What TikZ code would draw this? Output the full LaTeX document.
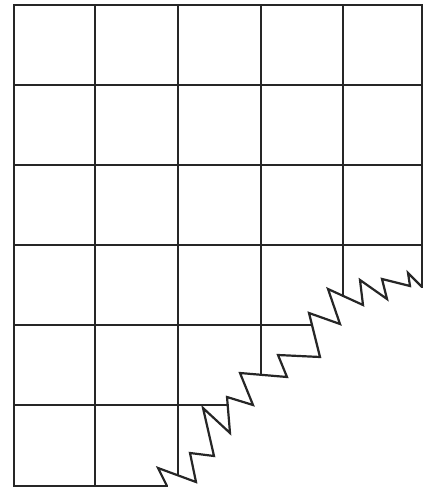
\documentclass[tikz,border=0pt]{standalone}
\begin{document}
\begin{tikzpicture}[x=1pt,y=-1pt]
\tikzset{gridline/.style={line width=2.4pt,draw=black!85,line cap=rect},
         breakline/.style={line width=2.2pt,draw=black!85,line join=miter}}
\useasboundingbox (0,0) rectangle (427,490);
% full horizontal lines
\draw[gridline] (14,5) -- (422,5);
\draw[gridline] (14,85) -- (422,85);
\draw[gridline] (14,165) -- (422,165);
\draw[gridline] (14,245) -- (422,245);
% truncated horizontal lines
\draw[gridline] (14,325) -- (312,325);
\draw[gridline] (14,405) -- (228,405);
\draw[gridline] (14,486) -- (167,486);
% vertical lines
\draw[gridline] (14,5) -- (14,486);
\draw[gridline] (95,5) -- (95,486);
\draw[gridline] (178,5) -- (178,475);
\draw[gridline] (261,5) -- (261,375);
\draw[gridline] (343,5) -- (343,296);
\draw[gridline] (422,5) -- (422,287);
% break line
\draw[breakline] (167,486) -- (158,468) -- (196,482) -- (190,453) -- (214,456)
  -- (203,408) -- (230,433) -- (227,397) -- (253,405) -- (240,373)
  -- (287,377) -- (278,355) -- (320,357) -- (309,313) -- (340,324)
  -- (328,289) -- (363,305) -- (360,280) -- (387,299) -- (382,279)
  -- (410,286) -- (408,273) -- (422,287);
\end{tikzpicture}
\end{document}
